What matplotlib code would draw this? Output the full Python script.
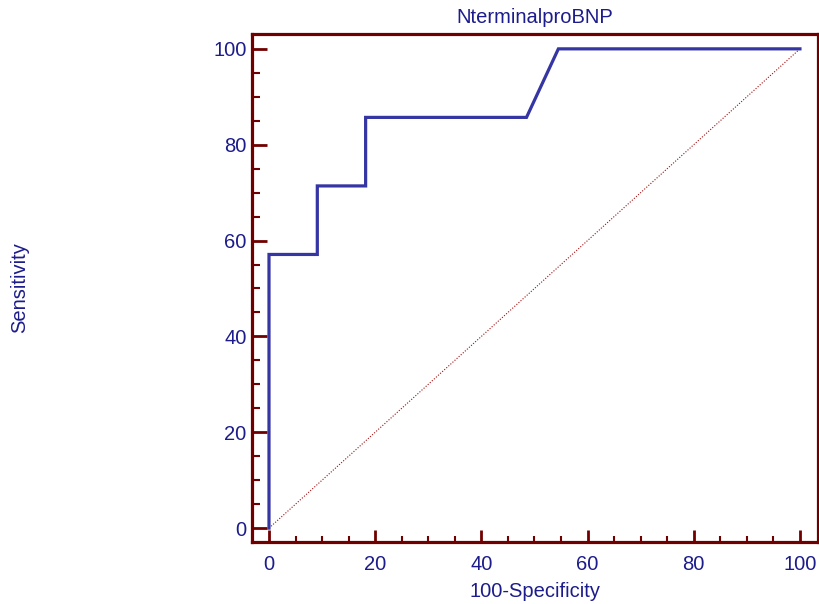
import matplotlib
matplotlib.use("Agg")
from matplotlib import pyplot as plt
from matplotlib.ticker import MultipleLocator

plt.rcParams['font.family'] = ['Liberation Sans', 'DejaVu Sans']

# ROC curve points (100-Specificity, Sensitivity)
fpr = [0, 0, 9.1, 9.1, 18.2, 18.2, 48.5, 54.5, 100]
tpr = [0, 57.1, 57.1, 71.4, 71.4, 85.7, 85.7, 100, 100]
diag = [0, 100]

title = 'NterminalproBNP'
maroon = '#700000'
navy = '#1c1c8c'
curve = '#3535a3'
fs = 14.5

fig = plt.figure(figsize=(8.2, 6.04), dpi=100)
ax = fig.add_axes([252/820, 1 - 542/604, (818-252)/820, (542-34)/604])

ax.plot(diag, diag, color='#a01010', linewidth=0.8, linestyle=(0, (1, 1.5)))
ax.plot(fpr, tpr, color=curve, linewidth=2.3, solid_joinstyle='miter')

ax.set_xlim(-3.2, 103.4)
ax.set_ylim(-2.9, 103.1)
ax.xaxis.set_major_locator(MultipleLocator(20))
ax.xaxis.set_minor_locator(MultipleLocator(5))
ax.yaxis.set_major_locator(MultipleLocator(20))
ax.yaxis.set_minor_locator(MultipleLocator(5))

for s in ax.spines.values():
    s.set_color(maroon)
    s.set_linewidth(2.3)

ax.tick_params(which='both', direction='in', color=maroon,
               labelcolor=navy, labelsize=fs)
ax.tick_params(which='major', width=2.0)
ax.tick_params(which='minor', width=1.5)
ax.tick_params(axis='y', which='major', length=11, pad=4)
ax.tick_params(axis='y', which='minor', length=6)
ax.tick_params(axis='x', which='major', length=8.5, pad=9)
ax.tick_params(axis='x', which='minor', length=4.5)

ax.set_title(title, color=navy, fontsize=fs, pad=8)
ax.set_xlabel('100-Specificity', color=navy, fontsize=fs, labelpad=6)
fig.text(20/820, 1 - 288/604, 'Sensitivity', color=navy, fontsize=fs,
         rotation=90, ha='center', va='center')

fig.savefig('out.png', dpi=100)
